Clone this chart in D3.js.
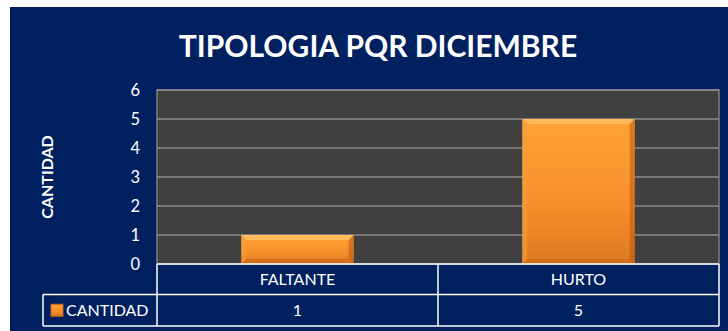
<!DOCTYPE html>
<html>
<head>
<meta charset="utf-8">
<script src="https://cdn.jsdelivr.net/npm/d3@7"></script>
<style>
  html, body { margin: 0; padding: 0; background: #ffffff; }
  svg { display: block; }
  text { font-family: Lato, "Open Sans", sans-serif; fill: #ffffff; }
</style>
</head>
<body>
<svg id="chart" width="728" height="331"></svg>
<script>
// Chart data
const title = "TIPOLOGIA PQR DICIEMBRE";
const categories = ["FALTANTE", "HURTO"];
const seriesName = "CANTIDAD";
const values = [1, 5];
const yTicks = [0, 1, 2, 3, 4, 5, 6];
const yAxisTitle = "CANTIDAD";

const W = 728, H = 331;
const navy = "#002060";
const plot = { left: 157, right: 719, top: 90, bottom: 264 };
const rowH = 30.5;

const svg = d3.select("#chart");

// Gradients
const defs = svg.append("defs");
const g1 = defs.append("linearGradient").attr("id", "barFill")
  .attr("x1", 0).attr("y1", 0).attr("x2", 0).attr("y2", 1);
g1.append("stop").attr("offset", "0%").attr("stop-color", "#ffa236");
g1.append("stop").attr("offset", "55%").attr("stop-color", "#f8912c");
g1.append("stop").attr("offset", "100%").attr("stop-color", "#de7820");

// Background panel
svg.append("rect").attr("x", 10).attr("y", 7).attr("width", W - 10).attr("height", H - 7)
  .attr("fill", navy);

// Title
svg.append("text").attr("x", 378).attr("y", 57)
  .attr("text-anchor", "middle")
  .attr("font-size", 30).attr("font-weight", "bold")
  .text(title);

// Scales
const x = d3.scaleBand().domain(categories).range([plot.left, plot.right]).padding(0);
const y = d3.scaleLinear().domain([0, d3.max(yTicks)]).range([plot.bottom, plot.top]);

// Plot area
svg.append("rect")
  .attr("x", plot.left).attr("y", plot.top)
  .attr("width", plot.right - plot.left).attr("height", plot.bottom - plot.top)
  .attr("fill", "#404040").attr("stroke", "#7f7f7f").attr("stroke-width", 1.5);

// Gridlines
svg.append("g").selectAll("line").data(yTicks.filter(d => d > 0)).join("line")
  .attr("x1", plot.left).attr("x2", plot.right)
  .attr("y1", d => y(d)).attr("y2", d => y(d))
  .attr("stroke", "#8a8a8a").attr("stroke-width", 1.5);

// Y axis labels
const yAxis = svg.append("g").attr("transform", `translate(${plot.left},0)`)
  .call(d3.axisLeft(y).tickValues(yTicks).tickSize(0).tickPadding(17).tickFormat(d3.format("d")));
yAxis.select(".domain").remove();
yAxis.selectAll("text").attr("font-size", 16.5).attr("fill", "#ffffff")
  .style("font-family", "Lato, 'Open Sans', sans-serif");

// Y axis title
svg.append("text")
  .attr("transform", `translate(53,${(plot.top + plot.bottom) / 2}) rotate(-90)`)
  .attr("text-anchor", "middle")
  .attr("font-size", 16).attr("font-weight", "bold")
  .text(yAxisTitle);

// Bars with bevel
const barW = x.bandwidth() * 0.4;
const bev = 5;
const bars = svg.append("g").selectAll("g").data(categories.map((c, i) => ({ c, v: values[i] }))).join("g");
bars.each(function (d) {
  const g = d3.select(this);
  const x0 = x(d.c) + (x.bandwidth() - barW) / 2;
  const x1 = x0 + barW;
  const y0 = y(d.v), y1 = y(0);
  g.append("rect").attr("x", x0).attr("y", y0).attr("width", barW).attr("height", y1 - y0)
    .attr("fill", "url(#barFill)");
  // top bevel
  g.append("polygon")
    .attr("points", [[x0, y0], [x1, y0], [x1 - bev, y0 + bev], [x0 + bev, y0 + bev]].join(" "))
    .attr("fill", "#ffc060").attr("opacity", 0.85);
  // left bevel
  g.append("polygon")
    .attr("points", [[x0, y0], [x0 + bev, y0 + bev], [x0 + bev, y1 - bev], [x0, y1]].join(" "))
    .attr("fill", "#f0a040").attr("opacity", 0.6);
  // right bevel
  g.append("polygon")
    .attr("points", [[x1, y0], [x1 - bev, y0 + bev], [x1 - bev, y1 - bev], [x1, y1]].join(" "))
    .attr("fill", "#b85a10").attr("opacity", 0.55);
  // bottom bevel
  g.append("polygon")
    .attr("points", [[x0, y1], [x0 + bev, y1 - bev], [x1 - bev, y1 - bev], [x1, y1]].join(" "))
    .attr("fill", "#c86a18").attr("opacity", 0.6);
});

// Data table
const tbl = svg.append("g");
const r0 = plot.bottom, r1 = r0 + rowH, r2 = r1 + rowH + 1;
const legendLeft = 43;
const line = (x1, y1, x2, y2) => tbl.append("line")
  .attr("x1", x1).attr("y1", y1).attr("x2", x2).attr("y2", y2)
  .attr("stroke", "#ffffff").attr("stroke-width", 1.5);
line(plot.left, r0, plot.right, r0);
line(legendLeft, r1, plot.right, r1);
line(legendLeft, r2, plot.right, r2);
line(legendLeft, r1, legendLeft, r2);
line(plot.right, r0, plot.right, r2);
categories.forEach(c => line(x(c), r0, x(c), r2));

tbl.selectAll("text.cat").data(categories).join("text").attr("class", "cat")
  .attr("x", d => x(d) + x.bandwidth() / 2).attr("y", (r0 + r1) / 2 + 6)
  .attr("text-anchor", "middle").attr("font-size", 16).text(d => d);
tbl.selectAll("text.val").data(values).join("text").attr("class", "val")
  .attr("x", (d, i) => x(categories[i]) + x.bandwidth() / 2).attr("y", (r1 + r2) / 2 + 6)
  .attr("text-anchor", "middle").attr("font-size", 16).text(d => d);

// Legend key in table
tbl.append("rect").attr("x", 51).attr("y", (r1 + r2) / 2 - 6).attr("width", 12).attr("height", 12)
  .attr("fill", "url(#barFill)").attr("stroke", "#c86a18").attr("stroke-width", 1);
tbl.append("text").attr("x", 66).attr("y", (r1 + r2) / 2 + 6)
  .attr("font-size", 16).text(seriesName);
</script>
</body>
</html>
